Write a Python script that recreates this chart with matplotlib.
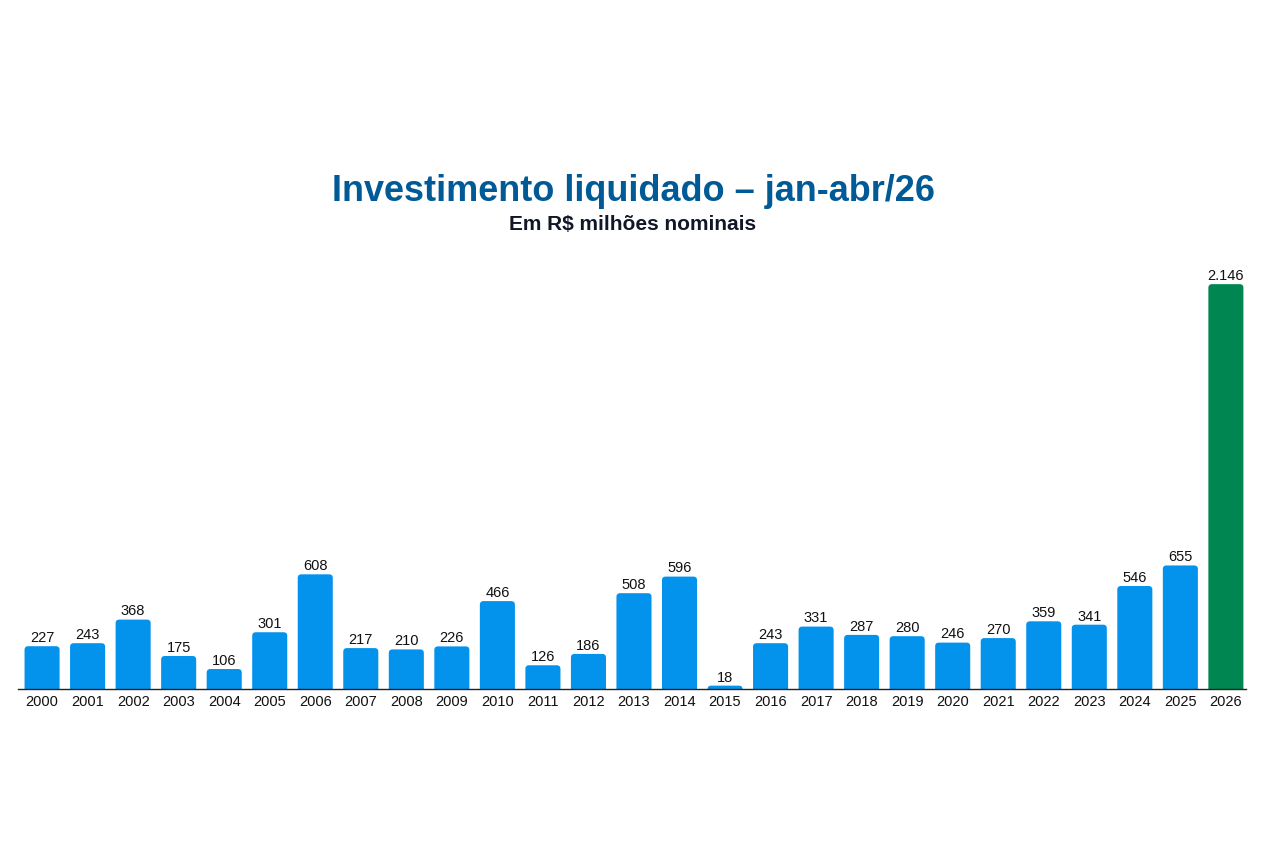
import matplotlib
matplotlib.use("Agg")
import matplotlib.pyplot as plt
from matplotlib.patches import FancyBboxPatch

plt.rcParams['font.family'] = ['Liberation Sans', 'DejaVu Sans']

anos = [str(a) for a in range(2000, 2027)]
valores = [227, 243, 368, 175, 106, 301, 608, 217, 210, 226, 466, 126, 186, 508, 596,
           18, 243, 331, 287, 280, 246, 270, 359, 341, 546, 655, 2146]
rotulos = [f"{v:,}".replace(",", ".") for v in valores]

azul = "#0392EC"
verde = "#008751"
cores = [azul] * (len(valores) - 1) + [verde]

fig = plt.figure(figsize=(12.72, 8.47), dpi=100)
ax = fig.add_axes([0.0141, 0.1865, 0.9654, 0.4945])

x = range(len(anos))
bars = ax.bar(x, valores, width=0.77, color=cores)

ymax = 2220
ax.set_xlim(-0.53, len(anos) - 0.56)
ax.set_ylim(0, ymax)

# topo arredondado: troca cada barra por um FancyBboxPatch que começa abaixo do zero
aspecto = (ymax / 419) / (1 / 45.53)
for b in bars:
    b.set_visible(False)
    p = FancyBboxPatch((b.get_x(), -60), b.get_width(), b.get_height() + 60,
                       boxstyle="round,pad=0,rounding_size=0.08",
                       mutation_aspect=aspecto,
                       facecolor=b.get_facecolor(), edgecolor="none", linewidth=0,
                       zorder=1)
    ax.add_patch(p)

for xi, v, r in zip(x, valores, rotulos):
    ax.text(xi, v + 6, r, ha="center", va="bottom", fontsize=10.5, color="#111111")

ax.set_xticks(list(x))
ax.set_xticklabels(anos, fontsize=10.5, color="#111111")
ax.tick_params(axis="x", length=0, pad=4)
ax.set_yticks([])
for s in ["top", "right", "left"]:
    ax.spines[s].set_visible(False)
ax.spines["bottom"].set_color("#222222")
ax.spines["bottom"].set_linewidth(1.0)
ax.spines["bottom"].set_zorder(3)

fig.text(0.4976, 0.774, "Investimento liquidado – jan-abr/26", ha="center", va="center",
         fontsize=25.9, fontweight="bold", color="#005A96")
fig.text(0.4976, 0.735, "Em R$ milhões nominais", ha="center", va="center",
         fontsize=15, fontweight="bold", color="#101828")

fig.savefig("out.png", dpi=100)
